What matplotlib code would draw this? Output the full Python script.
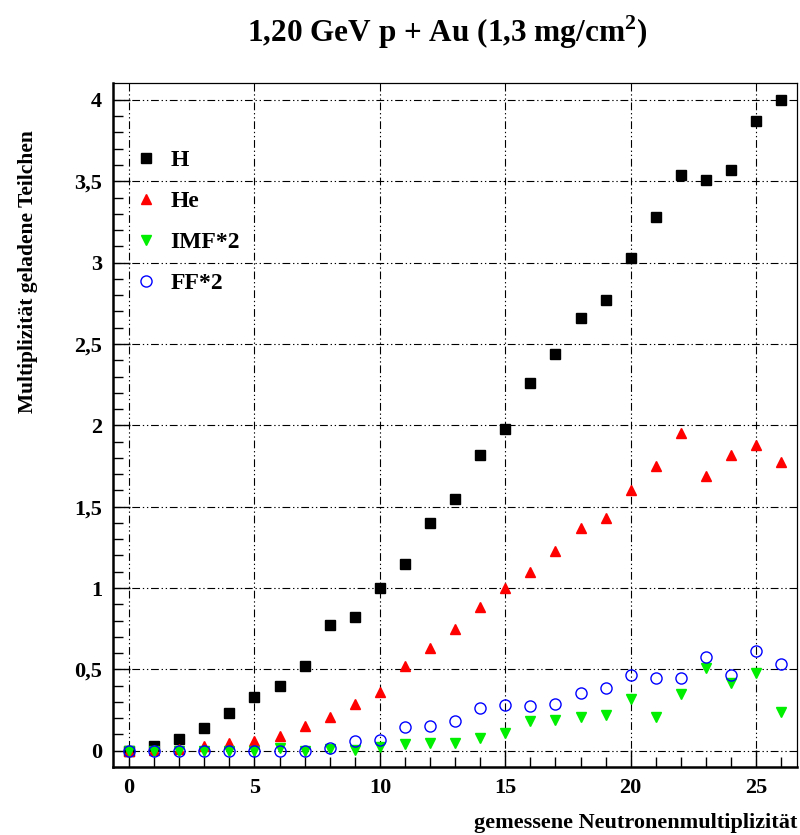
import matplotlib.pyplot as plt
import numpy as np

plt.rcParams['font.family'] = ['Liberation Serif', 'DejaVu Serif']
plt.rcParams['font.weight'] = 'bold'
plt.rcParams['mathtext.fontset'] = 'custom'
plt.rcParams['mathtext.rm'] = 'Liberation Serif:bold'
plt.rcParams['mathtext.bf'] = 'Liberation Serif:bold'

n_mult = list(range(27))

h_vals = [0.0, 0.03, 0.07, 0.14, 0.23, 0.33, 0.40, 0.52, 0.77, 0.82, 1.00,
          1.15, 1.40, 1.55, 1.82, 1.98, 2.26, 2.44, 2.66, 2.77, 3.03,
          3.28, 3.54, 3.51, 3.57, 3.87, 4.00]
he_vals = [0.0, 0.005, 0.01, 0.03, 0.05, 0.06, 0.09, 0.15, 0.21, 0.29, 0.36,
           0.52, 0.63, 0.75, 0.885, 1.00, 1.10, 1.225, 1.37, 1.43, 1.60,
           1.75, 1.95, 1.69, 1.82, 1.88, 1.775]
imf_vals = [0.0, 0.0, 0.0, 0.0, 0.0, 0.0, 0.015, 0.0, 0.01, 0.005, 0.02,
            0.04, 0.045, 0.045, 0.08, 0.11, 0.18, 0.19, 0.21, 0.22, 0.32,
            0.21, 0.35, 0.51, 0.415, 0.48, 0.24]
ff_vals = [0.0, 0.0, 0.0, 0.0, 0.0, 0.0, 0.0, 0.0, 0.015, 0.06, 0.065,
           0.145, 0.155, 0.185, 0.26, 0.28, 0.275, 0.29, 0.355, 0.385, 0.465,
           0.45, 0.45, 0.575, 0.465, 0.615, 0.535]

y_ticks = [0, 0.5, 1, 1.5, 2, 2.5, 3, 3.5, 4]
y_ticklabels = ['0', '0,5', '1', '1,5', '2', '2,5', '3', '3,5', '4']
x_ticks = [0, 5, 10, 15, 20, 25]

fig = plt.figure(figsize=(8, 8.35), dpi=100)
ax = fig.add_axes([113 / 800, 68 / 835, 684 / 800, 684 / 835])

ax.plot(n_mult, h_vals, 's', color='black', markersize=7.3, label='H', zorder=3)
ax.plot(n_mult, he_vals, '^', color='red', markersize=7.5, label='He', zorder=3)
ax.plot(n_mult, imf_vals, 'v', color='#00ee00', markersize=7.5, label='IMF*2', zorder=3)
ax.plot(n_mult, ff_vals, 'o', markerfacecolor='none', markeredgecolor='blue',
        markeredgewidth=1.0, markersize=8, label='FF*2', zorder=4)

ax.set_xlim(-0.64, 26.63)
ax.set_ylim(-0.1, 4.104)

ax.set_xticks(x_ticks)
ax.set_xticks(range(27), minor=True)
ax.set_yticks(y_ticks)
ax.set_yticklabels(y_ticklabels)
ax.set_yticks(np.arange(0, 4.05, 0.1), minor=True)

ax.tick_params(axis='both', which='both', direction='in', top=False, right=False,
               labelsize=16, width=1)
ax.tick_params(axis='x', which='major', length=12, pad=8)
ax.tick_params(axis='x', which='minor', length=7)
ax.tick_params(axis='y', which='major', length=12, pad=8)
ax.tick_params(axis='y', which='minor', length=7)
for lbl in ax.get_xticklabels() + ax.get_yticklabels():
    lbl.set_fontweight('bold')

ax.grid(True, which='major', color='black', linewidth=0.8,
        linestyle=(0, (7, 2.5, 1.2, 2.5, 1.2, 2.5)))

ax.spines['left'].set_linewidth(1.8)
ax.spines['bottom'].set_linewidth(1.8)
ax.spines['top'].set_linewidth(0.9)
ax.spines['right'].set_linewidth(0.9)

ax.legend(loc='upper left', bbox_to_anchor=(0.013, 0.916), frameon=False,
          prop={'size': 17, 'weight': 'bold'}, handletextpad=0.45,
          labelspacing=0.82, handlelength=1.2, borderaxespad=0)

fig.text(447 / 800, 1 - 32 / 835, r'1,20 GeV p + Au (1,3 mg/cm$^{\mathbf{2}}$)',
         ha='center', va='center', fontsize=22.5, fontweight='bold')
fig.text(28 / 800, 1 - 130 / 835, 'Multiplizität geladene Teilchen',
         rotation=90, ha='center', va='top', fontsize=15.5, fontweight='bold')
fig.text(797 / 800, 1 - 823 / 835, 'gemessene Neutronenmultiplizität',
         ha='right', va='center', fontsize=16, fontweight='bold')

fig.savefig('out.png', dpi=100)
